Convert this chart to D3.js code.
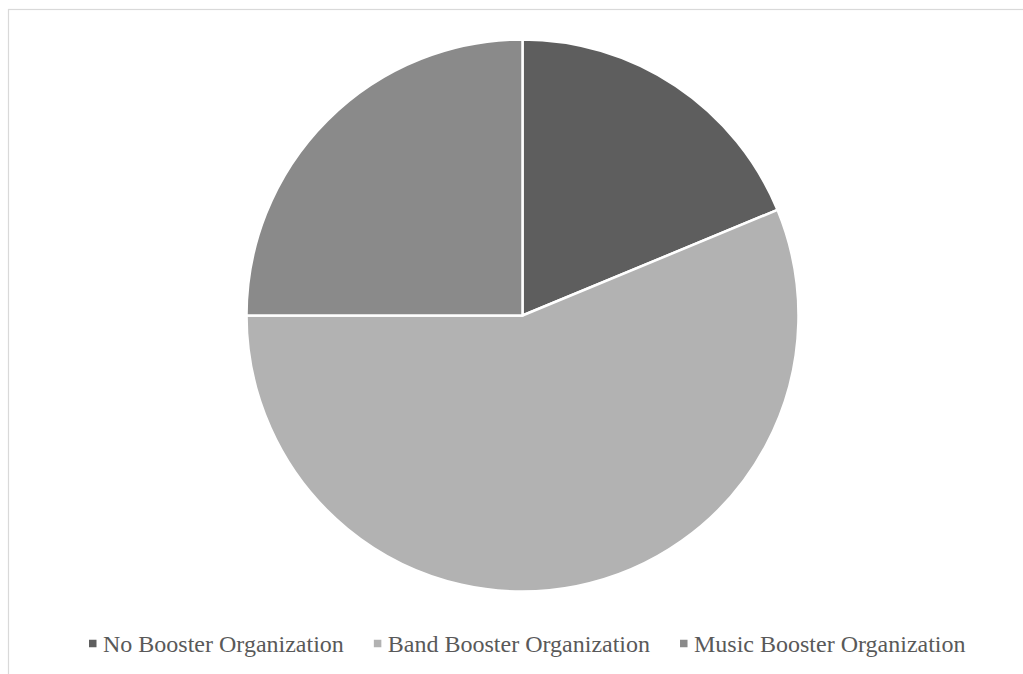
<!DOCTYPE html>
<html>
<head>
<meta charset="utf-8">
<script src="https://cdn.jsdelivr.net/npm/d3@7"></script>
<style>
  html, body { margin: 0; padding: 0; background: #ffffff; }
  svg { display: block; }
</style>
</head>
<body>
<svg id="chart" width="1023" height="674"></svg>
<script>
// Survey responses by type of booster organization
const categories = ["No Booster Organization", "Band Booster Organization", "Music Booster Organization"];
const values = [3, 9, 4];
const colors = ["#5e5e5e", "#b2b2b2", "#8a8a8a"];

const svg = d3.select("#chart");
const W = 1023, H = 674;

// chart frame (extends beyond the visible area on the right and bottom)
svg.append("rect")
  .attr("x", 8.5).attr("y", 9.5)
  .attr("width", W + 20).attr("height", H + 20)
  .attr("fill", "#ffffff")
  .attr("stroke", "#d9d9d9")
  .attr("stroke-width", 1.2);

const cx = 522.5, cy = 315.5, r = 276;

const pie = d3.pie().sort(null).value(d => d.value);
const arc = d3.arc().innerRadius(0).outerRadius(r);
const data = categories.map((c, i) => ({ name: c, value: values[i], color: colors[i] }));

svg.append("g")
  .attr("transform", `translate(${cx},${cy})`)
  .selectAll("path")
  .data(pie(data))
  .join("path")
  .attr("d", arc)
  .attr("fill", d => d.data.color)
  .attr("stroke", "#ffffff")
  .attr("stroke-width", 2.5)
  .attr("stroke-linejoin", "round");

// legend
const legend = svg.append("g");
const fontSize = 24;
const markerSize = 7.5;
const markerGap = 6.5;
const itemGap = 30;
const legendBaseline = 651.5;
const markerCenter = 643.5;

const items = legend.selectAll("g")
  .data(data)
  .join("g");

items.append("rect")
  .attr("y", markerCenter - markerSize / 2)
  .attr("width", markerSize).attr("height", markerSize)
  .attr("fill", d => d.color);

items.append("text")
  .attr("x", markerSize + markerGap)
  .attr("y", legendBaseline)
  .attr("font-family", "'Liberation Serif', 'Times New Roman', serif")
  .attr("font-size", fontSize)
  .attr("fill", "#595959")
  .text(d => d.name);

const widths = [];
items.each(function () { widths.push(this.getBBox().width); });
let x = 89;
items.each(function (d, i) {
  d3.select(this).attr("transform", `translate(${x},0)`);
  x += widths[i] + itemGap;
});
</script>
</body>
</html>
